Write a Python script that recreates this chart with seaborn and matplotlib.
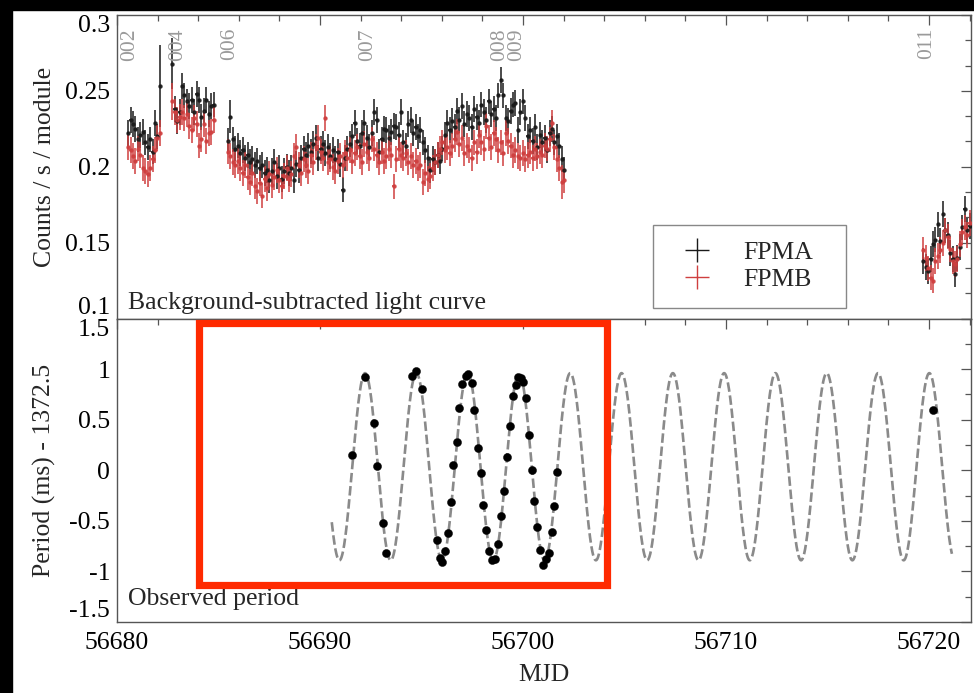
import numpy as np
import pandas as pd
import seaborn as sns
import matplotlib
matplotlib.use("Agg")
import matplotlib.pyplot as plt
from matplotlib.ticker import AutoMinorLocator
from matplotlib.lines import Line2D
from matplotlib.patches import Rectangle
import matplotlib.transforms as mtransforms

# ---------------- light curve data (counts / s / module) ----------------
bin_days = 0.12
seg_start = [56680.55, 56682.72, 56685.47, 56719.72]

fpma_002 = [0.222, 0.231, 0.228, 0.225, 0.218, 0.221, 0.223, 0.216, 0.213, 0.218, 0.210, 0.229, 0.220, 0.253]
fpmb_002 = [0.213, 0.211, 0.207, 0.204, 0.212, 0.208, 0.199, 0.197, 0.195, 0.199, 0.205, 0.211, 0.219, 0.222]

fpma_004 = [0.268, 0.238, 0.230, 0.236, 0.253, 0.247, 0.243, 0.240, 0.244, 0.236, 0.248, 0.244, 0.233, 0.237,
            0.244, 0.235, 0.240, 0.241]
fpmb_004 = [0.243, 0.236, 0.231, 0.233, 0.236, 0.232, 0.235, 0.227, 0.224, 0.232, 0.228, 0.214, 0.218, 0.228,
            0.217, 0.222, 0.223, 0.231]

fpma_006 = [0.217, 0.233, 0.218, 0.212,
            0.214, 0.209, 0.211, 0.206, 0.208, 0.203, 0.205, 0.201, 0.204, 0.199,
            0.201, 0.196, 0.198, 0.191, 0.197, 0.203, 0.194, 0.199, 0.192, 0.197, 0.200, 0.196,
            0.199, 0.191, 0.202, 0.198, 0.206, 0.212, 0.208, 0.214, 0.210, 0.215, 0.219, 0.206, 0.212,
            0.215, 0.209, 0.213, 0.207, 0.211, 0.205, 0.210, 0.202, 0.185, 0.206,
            0.212, 0.215, 0.220, 0.229, 0.217, 0.214, 0.222, 0.229, 0.219, 0.213, 0.222, 0.236, 0.231, 0.210,
            0.218, 0.225, 0.224, 0.219, 0.223, 0.227,
            0.226, 0.221, 0.236, 0.216, 0.214, 0.228, 0.231, 0.222, 0.226, 0.220, 0.224, 0.216, 0.211, 0.206,
            0.198, 0.205, 0.203, 0.208, 0.204,
            0.212, 0.221, 0.229, 0.224, 0.230, 0.226, 0.237, 0.231, 0.240, 0.228, 0.235, 0.232, 0.226, 0.238,
            0.233, 0.229, 0.241, 0.236, 0.231, 0.243, 0.235, 0.238, 0.232, 0.247, 0.257, 0.247, 0.232, 0.230,
            0.237, 0.241, 0.242, 0.224, 0.236,
            0.243, 0.232, 0.220, 0.224, 0.217, 0.226, 0.213, 0.221, 0.216, 0.219, 0.211, 0.222, 0.225, 0.216,
            0.220, 0.214, 0.205, 0.198]
fpmb_006 = [0.210, 0.207, 0.203, 0.201,
            0.204, 0.199, 0.196, 0.201, 0.193, 0.190, 0.196, 0.187, 0.184, 0.189,
            0.181, 0.192, 0.186, 0.195, 0.188, 0.193, 0.198, 0.191, 0.187, 0.194, 0.199, 0.192,
            0.195, 0.207, 0.213, 0.201, 0.196, 0.205, 0.201, 0.197, 0.208, 0.203, 0.213, 0.219, 0.210,
            0.206, 0.232, 0.203, 0.205, 0.200, 0.197, 0.204, 0.207, 0.201, 0.209,
            0.206, 0.211, 0.204, 0.209, 0.213, 0.207, 0.203, 0.215, 0.210, 0.206, 0.218, 0.212, 0.208, 0.203,
            0.210, 0.204, 0.207, 0.212, 0.208, 0.187,
            0.205, 0.212, 0.208, 0.206, 0.209, 0.203, 0.207, 0.201, 0.204, 0.199, 0.201, 0.190, 0.196, 0.192,
            0.194, 0.199, 0.203, 0.208, 0.212,
            0.216, 0.211, 0.213, 0.209, 0.214, 0.218, 0.223, 0.215, 0.219, 0.209, 0.214, 0.211, 0.206, 0.216,
            0.210, 0.221, 0.216, 0.212, 0.227, 0.219, 0.213, 0.222, 0.218, 0.211, 0.216, 0.209, 0.222, 0.217,
            0.214, 0.208, 0.211, 0.207, 0.206,
            0.209, 0.205, 0.208, 0.210, 0.206, 0.212, 0.207, 0.210, 0.208, 0.214, 0.212, 0.218, 0.229, 0.213,
            0.205, 0.199, 0.190, 0.191]

fpma_011 = [0.138, 0.134, 0.131, 0.139, 0.149, 0.152, 0.162, 0.151, 0.169, 0.158, 0.155, 0.143, 0.139, 0.129,
            0.140, 0.147, 0.160, 0.172, 0.158, 0.161]
fpmb_011 = [0.145, 0.140, 0.133, 0.127, 0.125, 0.138, 0.141, 0.145, 0.150, 0.158, 0.154, 0.146, 0.138, 0.136,
            0.139, 0.149, 0.157, 0.160, 0.155, 0.163]

rate_err = 0.0085
# (segment index, point index, error) for the few points with larger error bars
fpma_big_err = [(0, 13, 0.027), (1, 0, 0.017), (2, 1, 0.011)]
fpmb_big_err = [(1, 0, 0.012), (2, 137, 0.011)]

# observation ids
obs_labels = ["002", "004", "006", "007", "008", "009", "011"]
obs_mjd = [56680.64, 56682.98, 56685.57, 56692.36, 56698.87, 56699.69, 56719.89]

# ---------------- observed period data (ms - 1372.5) ----------------
period_mjd = [56691.56, 56692.22, 56692.68, 56692.79, 56693.12, 56693.24, 56694.55, 56694.71, 56695.01,
              56695.75, 56695.91, 56696.03, 56696.16, 56696.29, 56696.44, 56696.57, 56696.73, 56696.85,
              56696.98, 56697.19, 56697.31, 56697.47, 56697.60, 56697.77, 56697.92, 56698.05, 56698.18,
              56698.33, 56698.46, 56698.62, 56698.79, 56698.92, 56699.06, 56699.20, 56699.36, 56699.52,
              56699.64, 56699.77, 56699.90, 56700.01, 56700.13, 56700.30, 56700.43, 56700.54, 56700.67,
              56700.84, 56700.97, 56701.12, 56701.28, 56701.44, 56701.54, 56701.69, 56720.18]
period_val = [0.15, 0.92, 0.47, 0.04, -0.52, -0.82, 0.93, 0.98, 0.80,
              -0.69, -0.87, -0.91, -0.80, -0.62, -0.31, 0.05, 0.28, 0.62,
              0.85, 0.93, 0.95, 0.86, 0.60, 0.22, -0.03, -0.34, -0.59,
              -0.80, -0.89, -0.88, -0.73, -0.45, -0.21, 0.13, 0.44, 0.73,
              0.84, 0.92, 0.91, 0.87, 0.71, 0.35, 0.00, -0.30, -0.56,
              -0.79, -0.94, -0.88, -0.82, -0.61, -0.35, -0.02, 0.60]

# orbital model (sinusoid) parameters
orb_period = 2.527
orb_amp = 0.925
orb_offset = 0.035
orb_t_peak = 56692.22
orb_t_start = 56690.58
orb_t_end = 56721.13

# ---------------- assemble ----------------
fpma_segs = [fpma_002, fpma_004, fpma_006, fpma_011]
fpmb_segs = [fpmb_002, fpmb_004, fpmb_006, fpmb_011]


def build(segs, big):
    rows = []
    for si, (t0, vals) in enumerate(zip(seg_start, segs)):
        for pi, v in enumerate(vals):
            rows.append((si, pi, t0 + bin_days * pi, v, rate_err))
    df = pd.DataFrame(rows, columns=["seg", "idx", "mjd", "rate", "err"])
    for si, pi, e in big:
        df.loc[(df.seg == si) & (df.idx == pi), "err"] = e
    return df


lc_a = build(fpma_segs, fpma_big_err)
lc_b = build(fpmb_segs, fpmb_big_err)
per_df = pd.DataFrame({"mjd": period_mjd, "val": period_val})
t_model = np.linspace(orb_t_start, orb_t_end, 3000)
model_df = pd.DataFrame({"mjd": t_model,
                         "val": orb_offset + orb_amp * np.cos(2 * np.pi * (t_model - orb_t_peak) / orb_period)})

# ---------------- style ----------------
sns.set_theme(style="white")
plt.rcParams["font.family"] = ["Liberation Serif", "DejaVu Serif"]
FS = 18.5
SPINE = "#555555"

fig = plt.figure(figsize=(9.74, 6.93), dpi=100)
fig.patch.set_facecolor("white")
L, R = 117 / 974, 971 / 974
ax1 = fig.add_axes([L, 1 - 318.5 / 693, R - L, (318.5 - 15) / 693])
ax2 = fig.add_axes([L, 1 - 622 / 693, R - L, (622 - 318.5) / 693], sharex=ax1)

# light curves
eb_kw = dict(fmt="o", ms=2.2, elinewidth=1.3, capsize=0, alpha=0.85, zorder=3)
ax1.errorbar(lc_a.mjd, lc_a.rate, yerr=lc_a.err, xerr=0.06, color="#1a1a1a", mec="#1a1a1a", **eb_kw)
ax1.errorbar(lc_b.mjd, lc_b.rate, yerr=lc_b.err, xerr=0.06, color="#cf3f3f", mec="#cf3f3f", **eb_kw)

# period panel
sns.lineplot(data=model_df, x="mjd", y="val", ax=ax2, color="#8a8a8a", lw=1.9, sort=False, zorder=2)
ax2.lines[-1].set_dashes((3.6, 1.4))
sns.scatterplot(data=per_df, x="mjd", y="val", ax=ax2, color="black", s=34, edgecolor="black",
                linewidth=0.3, zorder=4)

# axes limits and ticks
ax1.set_xlim(56680, 56722.07)
ax1.set_ylim(0.1, 0.3)
ax2.set_ylim(-1.5, 1.5)

ax1.set_yticks([0.1, 0.15, 0.2, 0.25, 0.3])
lab1 = ax1.set_yticklabels(["0.1", "0.15", "0.2", "0.25", "0.3"])
lab1[0].set_va("bottom")
lab1[-1].set_va("top")
ax2.set_yticks([-1.5, -1, -0.5, 0, 0.5, 1, 1.5])
lab2 = ax2.set_yticklabels(["-1.5", "-1", "-0.5", "0", "0.5", "1", "1.5"])
lab2[0].set_va("bottom")
lab2[-1].set_va("top")
ax2.set_xticks([56680, 56690, 56700, 56710, 56720])
ax2.set_xticklabels(["56680", "56690", "56700", "56710", "56720"])

ax1.yaxis.set_minor_locator(AutoMinorLocator(3))
ax2.yaxis.set_minor_locator(AutoMinorLocator(2))
ax2.xaxis.set_minor_locator(AutoMinorLocator(5))

for ax in (ax1, ax2):
    ax.tick_params(which="both", direction="in", top=True, right=True, color=SPINE, width=0.9,
                   labelsize=FS, labelcolor="black")
    ax.tick_params(which="major", length=7)
    ax.tick_params(which="minor", length=4)
    ax.tick_params(axis="y", pad=5)
    ax.tick_params(axis="x", pad=7)
    for s in ax.spines.values():
        s.set_color(SPINE)
        s.set_linewidth(1.0)
    ax.set_facecolor("white")
ax1.tick_params(labelbottom=False)

ax1.set_xlabel("")
ax1.set_ylabel("Counts / s / module", fontsize=FS)
ax2.set_ylabel("Period (ms) - 1372.5", fontsize=FS)
ax2.set_xlabel("MJD", fontsize=FS)
ax1.yaxis.set_label_coords(-0.071, 0.5)
ax2.yaxis.set_label_coords(-0.071, 0.5)
ax2.xaxis.set_label_coords(0.5, -0.14)

# panel captions
ax1.text(0.0129, 0.031, "Background-subtracted light curve", transform=ax1.transAxes, fontsize=FS,
         va="baseline", ha="left")
ax2.text(0.0129, 0.056, "Observed period", transform=ax2.transAxes, fontsize=FS,
         va="baseline", ha="left")

# observation ids
btr = mtransforms.blended_transform_factory(ax1.transData, ax1.transAxes)
for m, lab in zip(obs_mjd, obs_labels):
    ax1.text(m, 0.957, lab, transform=btr, rotation=90, ha="center", va="top", color="#9a9a9a",
             fontsize=15.5)

# legend
handles = [Line2D([], [], marker="+", ls="none", color="#1a1a1a", ms=17, mew=1.0),
           Line2D([], [], marker="+", ls="none", color="#cf3f3f", ms=17, mew=1.0)]
leg = ax1.legend(handles, ["FPMA", "FPMB"], loc="lower left",
                 bbox_to_anchor=((653 - 117) / 854, (318.5 - 308) / 303.5, (846 - 653) / 854, 0.29),
                 mode="expand", borderaxespad=0, frameon=True, fancybox=False, fontsize=FS,
                 borderpad=0.65, handlelength=2.1, handletextpad=0.75, labelspacing=0.15)
leg.get_frame().set_edgecolor("#888888")
leg.get_frame().set_linewidth(1.0)
leg.get_frame().set_facecolor("white")
leg.get_frame().set_alpha(1)

# red highlight box
fig.add_artist(Rectangle((198.5 / 974, 1 - 584.5 / 693), (606.5 - 198.5) / 974, (584.5 - 322.5) / 693,
                         transform=fig.transFigure, fill=False, edgecolor="#ff2a00", lw=5.2,
                         joinstyle="miter", zorder=10))
# black screenshot borders
fig.add_artist(Rectangle((0, 1 - 10 / 693), 1, 10 / 693, transform=fig.transFigure, color="black", zorder=20))
fig.add_artist(Rectangle((0, 0), 12 / 974, 1, transform=fig.transFigure, color="black", zorder=20))

fig.savefig("out.png", dpi=100, facecolor="white")
